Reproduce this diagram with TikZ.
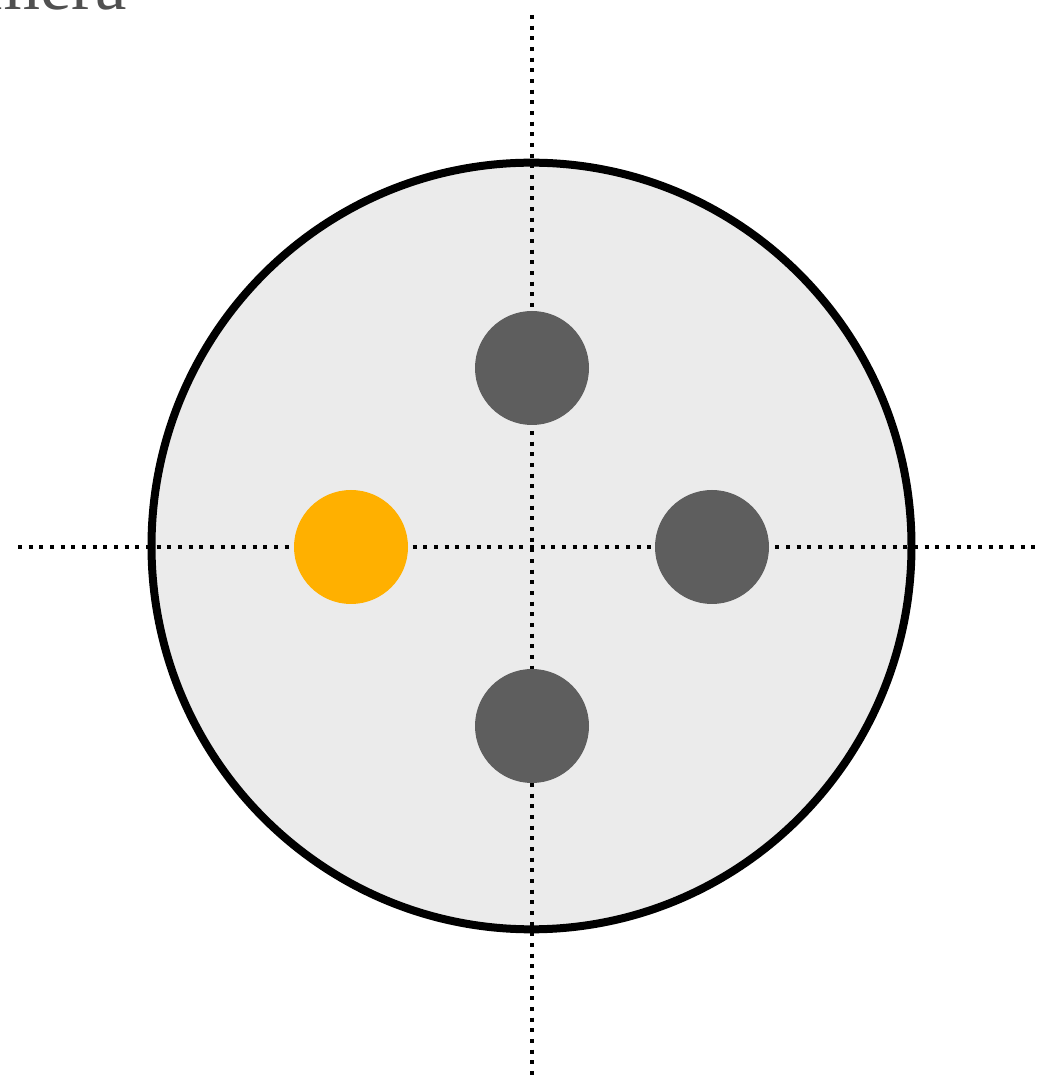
\documentclass[tikz,border=0pt]{standalone}
\usepackage{fontspec}
\setmainfont{Liberation Serif}
\usetikzlibrary{shapes.geometric}
\definecolor{bgfill}{HTML}{EBEBEB}
\definecolor{darkdot}{HTML}{5E5E5E}
\definecolor{orangedot}{HTML}{FFB000}
\definecolor{labelgray}{HTML}{505050}
\tikzset{
  axisline/.style={line width=3pt, dash pattern=on 3pt off 5pt, black},
  holder/.style={ellipse, draw=black, line width=6pt, fill=bgfill, minimum width=570pt, minimum height=575pt, inner sep=0pt},
  lens/.style={circle, fill=darkdot, minimum size=85.5pt, inner sep=0pt},
  lensactive/.style={circle, fill=orangedot, minimum size=85.5pt, inner sep=0pt},
}
\begin{document}
\begin{tikzpicture}[x=0.75pt,y=0.75pt]
\useasboundingbox (0,0) rectangle (1039,1076);
\node[holder] (body) at (531.5,530) {};
\coordinate (hl) at (18,529);
\coordinate (hr) at (1039,529);
\coordinate (vt) at (532,1061);
\coordinate (vb) at (532,0);
\draw[axisline] (hl) -- (hr);
\draw[axisline] (vt) -- (vb);
\node[lens] (top) at (532,708) {};
\node[lensactive] (left) at (351,529) {};
\node[lens] (right) at (712,529) {};
\node[lens] (bottom) at (532,350) {};
\node[anchor=base east, text=labelgray, font=\fontsize{53}{60}\selectfont, inner sep=0pt] (label) at (127,1066) {Camera};
\end{tikzpicture}
\end{document}
